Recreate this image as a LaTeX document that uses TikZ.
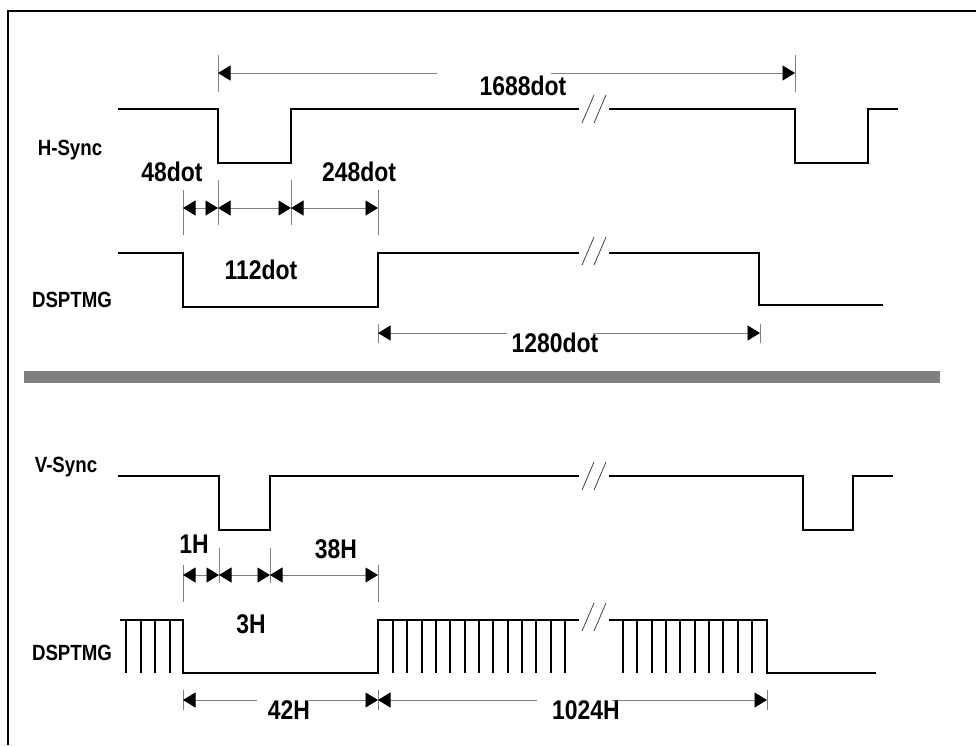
\documentclass[tikz,border=0pt]{standalone}
\usepackage{fontspec}
\newfontfamily\labfont{Liberation Sans}[FakeStretch=0.85]
\usepackage{tikz}
\usetikzlibrary{arrows.meta}
\definecolor{dimgray}{RGB}{128,128,130}

\begin{document}
\begin{tikzpicture}[
    x=1pt,y=-1pt,
    >={Triangle[length=12.5pt,width=15pt,color=black]},
    sig/.style={line width=2.2pt,line join=miter},
    comb/.style={line width=2pt},
    dim/.style={draw=dimgray,line width=0.9pt},
    tick/.style={draw=dimgray,line width=0.8pt},
    brk/.style={draw=black!75,line width=0.8pt},
    frame/.style={line width=1.6pt},
    dimlabel/.style={anchor=base,inner sep=0pt,font=\labfont\bfseries\fontsize{27}{30}\selectfont},
    signame/.style={anchor=base,inner sep=0pt,font=\labfont\bfseries\fontsize{22}{24}\selectfont}
]
\useasboundingbox (0,0) rectangle (976,745);

% Frame
\draw[frame] (8,745) -- (8,11) -- (976,11);

% Signal names
\node[signame] (nhs) at (70,155) {H-Sync};
\node[signame] (nhd) at (72,307) {DSPTMG};
\node[signame] (nvs) at (66,472) {V-Sync};
\node[signame] (nvd) at (72,660) {DSPTMG};

% H-Sync
\draw[sig] (118,109) -- (218,109) -- (218,163) -- (291,163) -- (291,109) -- (579,109);
\draw[sig] (609,109) -- (795,109) -- (795,163) -- (868,163) -- (868,109) -- (898,109);

% DSPTMG (horizontal)
\draw[sig] (118,253) -- (183,253) -- (183,307) -- (378,307) -- (378,253) -- (579,253);
\draw[sig] (609,253) -- (759,253) -- (759,305) -- (883,305);

% V-Sync
\draw[sig] (118,476) -- (219,476) -- (219,530) -- (270,530) -- (270,476) -- (579,476);
\draw[sig] (609,476) -- (803,476) -- (803,530) -- (853,530) -- (853,476) -- (893,476);

% DSPTMG (vertical)
\draw[sig] (120,620) -- (183,620) -- (183,673) -- (378,673) -- (378,620) -- (579,620);
\draw[sig] (609,620) -- (767,620) -- (767,673) -- (876,673);
\foreach \x in {126,141,155,170}
  \draw[comb] (\x,620) -- (\x,673);
\foreach \i in {0,...,12}
  \draw[comb] (393+\i*14.33,620) -- (393+\i*14.33,673);
\foreach \i in {0,...,9}
  \draw[comb] (623+\i*14.33,620) -- (623+\i*14.33,673);

% Break marks
\foreach \y in {109,251,476,617}{
  \draw[brk] (582,\y+14) -- (594,\y-14);
  \draw[brk] (594,\y+14) -- (606,\y-14);
}

% Separator
\fill[dimgray] (24,371) rectangle (940,383);

% 1688dot
\draw[tick] (218,55) -- (218,92);
\draw[tick] (795,55) -- (795,92);
\coordinate (p1688a) at (218,73);
\coordinate (p1688b) at (795,73);
\draw[dim,<-] (p1688a) -- ++(219,0);
\draw[dim,<-] (p1688b) -- ++(-244,0);
\node[dimlabel] (l1688) at (523,95) {1688dot};

% 48dot / 112dot / 248dot
\draw[tick] (183,190) -- (183,235);
\draw[tick] (218,180) -- (218,225);
\draw[tick] (291,180) -- (291,225);
\draw[tick] (378,190) -- (378,235);
\coordinate (ph1) at (183,208);
\coordinate (ph2) at (218,208);
\coordinate (ph3) at (291,208);
\coordinate (ph4) at (378,208);
\draw[dim,<->] (ph1) -- (ph2);
\draw[dim,<->] (ph2) -- (ph3);
\draw[dim,<->] (ph3) -- (ph4);
\node[dimlabel] (l48) at (172,181) {48dot};
\node[dimlabel] (l248) at (359,181) {248dot};
\node[dimlabel] (l112) at (261,279) {112dot};

% 1280dot
\draw[tick] (378,324) -- (378,343);
\draw[tick] (760,324) -- (760,343);
\coordinate (p1280a) at (378,333);
\coordinate (p1280b) at (760,333);
\draw[dim,<-] (p1280a) -- ++(129,0);
\draw[dim,<-] (p1280b) -- ++(-167,0);
\node[dimlabel] (l1280) at (555,352) {1280dot};

% 1H / 3H / 38H
\draw[tick] (183,565) -- (183,602);
\draw[tick] (219,548) -- (219,583);
\draw[tick] (270,548) -- (270,583);
\draw[tick] (378,565) -- (378,602);
\coordinate (pv1) at (183,575);
\coordinate (pv2) at (219,575);
\coordinate (pv3) at (270,575);
\coordinate (pv4) at (378,575);
\draw[dim,<->] (pv1) -- (pv2);
\draw[dim,<->] (pv2) -- (pv3);
\draw[dim,<->] (pv3) -- (pv4);
\node[dimlabel] (l1H) at (194,553) {1H};
\node[dimlabel] (l38H) at (336,558) {38H};
\node[dimlabel] (l3H) at (251,633) {3H};

% 42H / 1024H
\draw[tick] (183,690) -- (183,710);
\draw[tick] (378,690) -- (378,710);
\draw[tick] (767,690) -- (767,710);
\coordinate (pb1) at (183,700);
\coordinate (pb2) at (378,700);
\coordinate (pb3) at (767,700);
\draw[dim,<-] (pb1) -- ++(74,0);
\draw[dim,<-] (pb2) -- ++(-69,0);
\draw[dim,<-] (pb2) -- ++(159,0);
\draw[dim,<-] (pb3) -- ++(-155,0);
\node[dimlabel] (l42H) at (289,719) {42H};
\node[dimlabel] (l1024H) at (586,719) {1024H};

\end{tikzpicture}
\end{document}
